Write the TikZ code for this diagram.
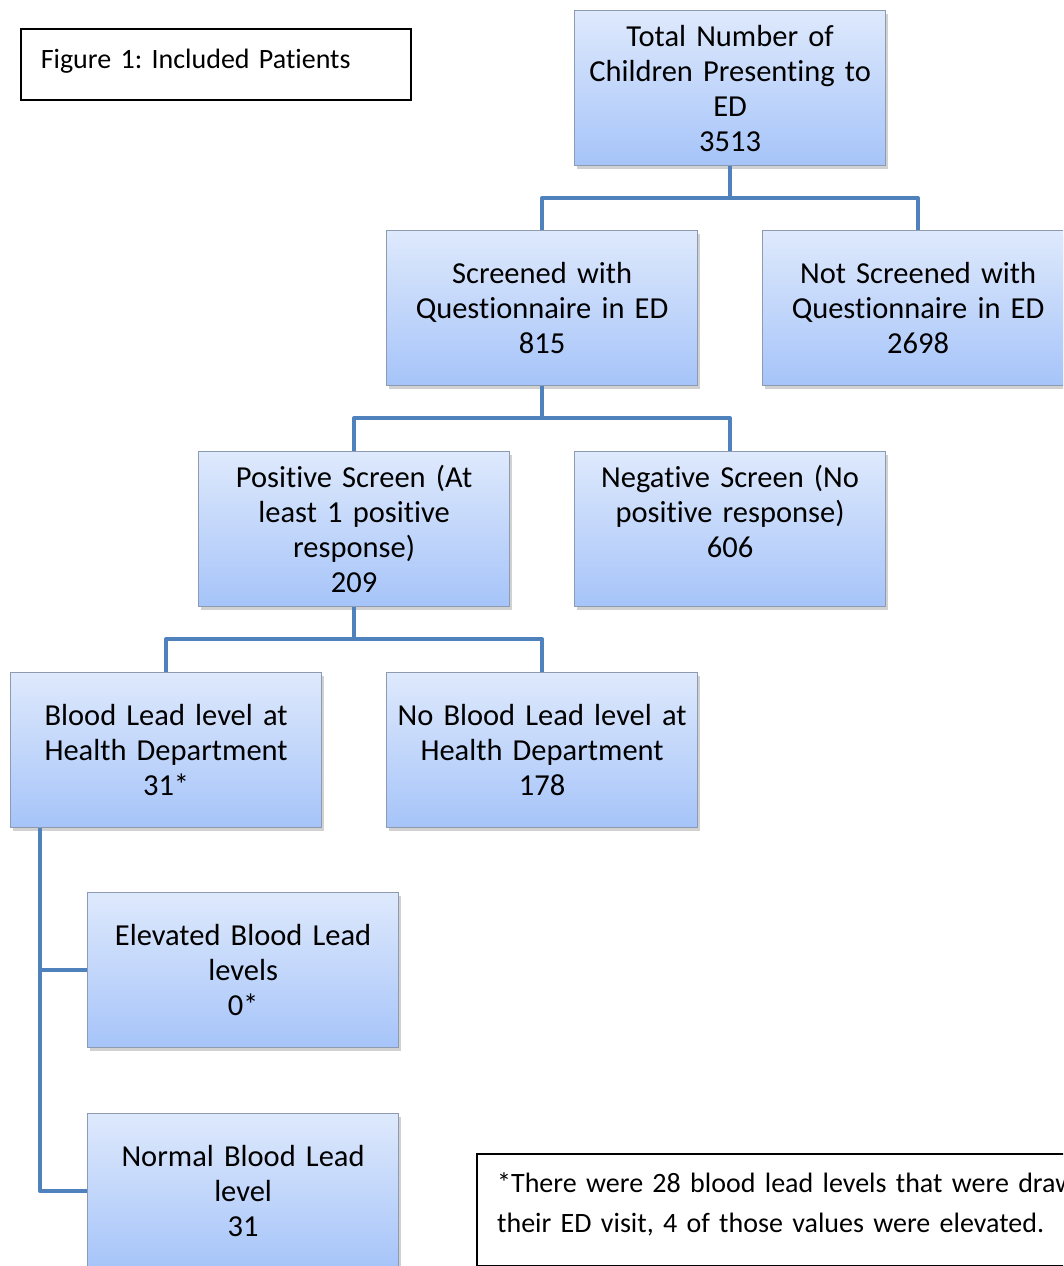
\documentclass[tikz,border=0pt]{standalone}
\usepackage{fontspec}
\setmainfont{Carlito}[Ligatures=NoCommon, WordSpace=0.85]
\frenchspacing
\usetikzlibrary{shadows}
\definecolor{boxtop}{RGB}{222,233,252}
\definecolor{boxbot}{RGB}{166,196,249}
\definecolor{boxline}{RGB}{140,155,178}
\definecolor{conncol}{RGB}{79,129,189}
\tikzset{
 fbox/.style={rectangle, draw=boxline, line width=1.2pt, top color=boxtop, bottom color=boxbot,
   minimum width=311pt, minimum height=155pt, text width=305pt, align=center,
   anchor=north west, inner sep=0pt, font=\fontsize{30.5}{35}\selectfont,
   drop shadow={shadow xshift=2pt, shadow yshift=-3pt, opacity=0.3, fill=black!60}},
 conn/.style={draw=conncol, line width=4pt, line join=round},
 plainbox/.style={rectangle, draw=black, line width=1.5pt, anchor=north west, align=left}
}
\begin{document}
\begin{tikzpicture}[x=1pt,y=-1pt]
\useasboundingbox (0,0) rectangle (1063,1266);
\clip (0,0) rectangle (1063,1266);
\node[plainbox, minimum width=390pt, minimum height=71pt, text width=350pt, inner xsep=20pt, inner ysep=0pt,
  font=\fontsize{28}{32}\selectfont] (fig) at (20,28) {\raisebox{3pt}[\height][\depth]{Figure 1: Included Patients}};
\node[fbox] (tot) at (574,10) {Total Number of\\Children Presenting to\\ED\\3513};
\node[fbox] (scr) at (386,230) {Screened with\\Questionnaire in ED\\815};
\node[fbox] (nscr) at (762,230) {Not Screened with\\Questionnaire in ED\\2698};
\node[fbox] (pos) at (198,451) {Positive Screen (At\\least 1 positive\\response)\\209};
\node[fbox] (neg) at (574,451) {Negative Screen (No\\positive response)\\606\\\mbox{}};
\node[fbox] (bl) at (10,672) {Blood Lead level at\\Health Department\\31*};
\node[fbox] (nbl) at (386,672) {No Blood Lead level at\\Health Department\\178};
\node[fbox] (elev) at (87,892) {Elevated Blood Lead\\levels\\0*};
\node[fbox] (norm) at (87,1113) {Normal Blood Lead\\level\\31};
\draw[conn] (tot.south) -- ++(0,32) -| (scr.north);
\draw[conn] (tot.south) -- ++(0,32) -| (nscr.north);
\draw[conn] (scr.south) -- ++(0,32) -| (pos.north);
\draw[conn] (scr.south) -- ++(0,32) -| (neg.north);
\draw[conn] (pos.south) -- ++(0,32) -| (bl.north);
\draw[conn] (pos.south) -- ++(0,32) -| (nbl.north);
\draw[conn] ([xshift=30pt]bl.south west) |- (elev.west);
\draw[conn] ([xshift=30pt]bl.south west) |- (norm.west);
\node[plainbox, minimum width=700pt, minimum height=112pt, inner sep=0pt] (note) at (476,1153) {};
\node[anchor=west, align=left, text width=660pt, inner sep=0pt, font=\fontsize{28}{40}\selectfont]
  (notetext) at ([xshift=21pt, yshift=5pt]note.west)
  {*There were 28 blood lead levels that were drawn\\their ED visit, 4 of those values were elevated.};
\end{tikzpicture}
\end{document}
